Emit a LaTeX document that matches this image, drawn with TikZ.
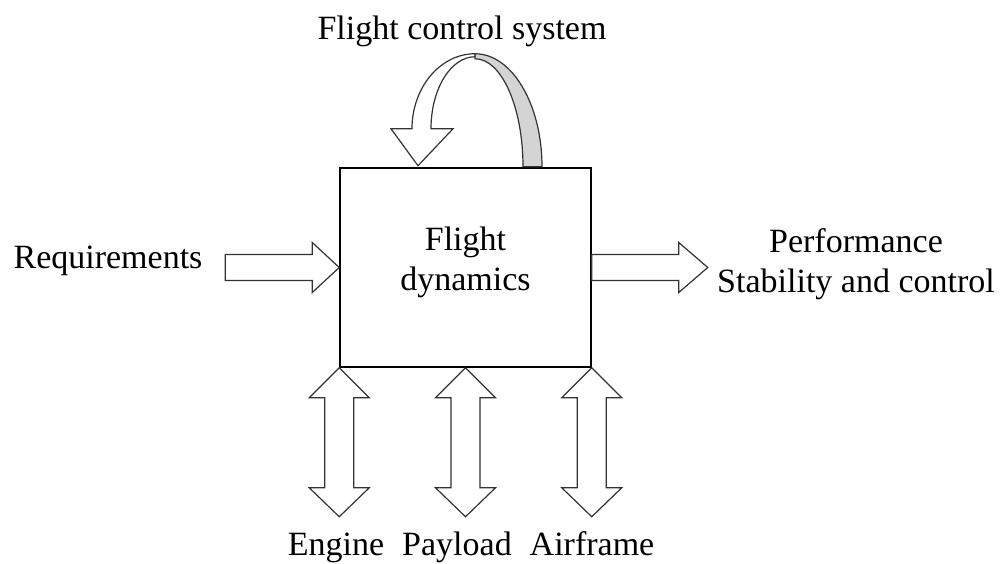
\documentclass[tikz,border=0pt]{standalone}
\usepackage{fontspec}
\setmainfont{Liberation Serif}
\usetikzlibrary{calc}
\begin{document}
\begin{tikzpicture}[x=1pt,y=1pt,
  blockarrow/.style={draw=black!80,line width=1.2pt,line join=miter,fill=white},
  ribbonback/.style={draw=black!80,line width=1.2pt,fill=black!17},
  mainbox/.style={draw=black,line width=1.5pt,minimum width=251pt,minimum height=199pt,inner sep=0pt},
  lbl/.style={font=\fontsize{34}{40}\selectfont,inner sep=0pt,text=black},
]
\useasboundingbox (0,0) rectangle (1002,563);

% central block
\node[mainbox] (box) at (465.5,295.5) {};
\node[lbl,align=center] (fd) at ($(box.center)+(0,5)$) {Flight\\dynamics};

% input arrow from the left
\draw[blockarrow] (box.west) -- ++(-27,25) -- ++(0,-12) -- ++(-87,0) -- ++(0,-26)
  -- ++(87,0) -- ++(0,-12) -- cycle;
\node[lbl,anchor=base] (req) at (108,294) {Requirements};

% output arrow to the right
\draw[blockarrow] ($(box.east)+(0,13)$) -- ++(87,0) -- ++(0,12) -- ++(29,-25)
  -- ++(-29,-25) -- ++(0,12) -- ++(-87,0) -- cycle;
\node[lbl,align=center] (out) at (856,299) {Performance\\Stability and control};

% double-headed arrows along the bottom edge
\foreach \a/\n in {south west/eng, south/pay, south east/air}{
  \draw[blockarrow] (box.\a) -- ++(30,-30) -- ++(-15.5,0) -- ++(0,-90) -- ++(15.5,0)
    -- ++(-30,-29) -- ++(-30,29) -- ++(15.5,0) -- ++(0,90) -- ++(-15.5,0) -- cycle;
}
\node[lbl,anchor=base] (engine) at (336,8) {Engine};
\node[lbl,anchor=base] (payload) at (457,8) {Payload};
\node[lbl,anchor=base] (airframe) at (592,8) {Airframe};

% feedback loop over the top: twisted ribbon
\coordinate (fc) at ($(box.north)+(9.5,0.5)$);
\draw[ribbonback] ($(fc)+(0,113)$) arc[start angle=90,end angle=0,x radius=67pt,y radius=113pt]
  -- ($(fc)+(48,0)$) arc[start angle=0,end angle=90,x radius=48pt,y radius=108pt] -- cycle;
\draw[blockarrow] ($(box.north)+(-47.5,1.5)$) -- ++(35,37) -- ++(-22,0)
  .. controls ++(0,40) and ++(-24,0) .. ++(44,72)
  -- ++(0,3)
  .. controls ++(-35,0) and ++(0,41) .. ++(-63,-75)
  -- ++(-21,0) -- cycle;
\node[lbl,anchor=base] (fcs) at (462,523) {Flight control system};
\end{tikzpicture}
\end{document}
